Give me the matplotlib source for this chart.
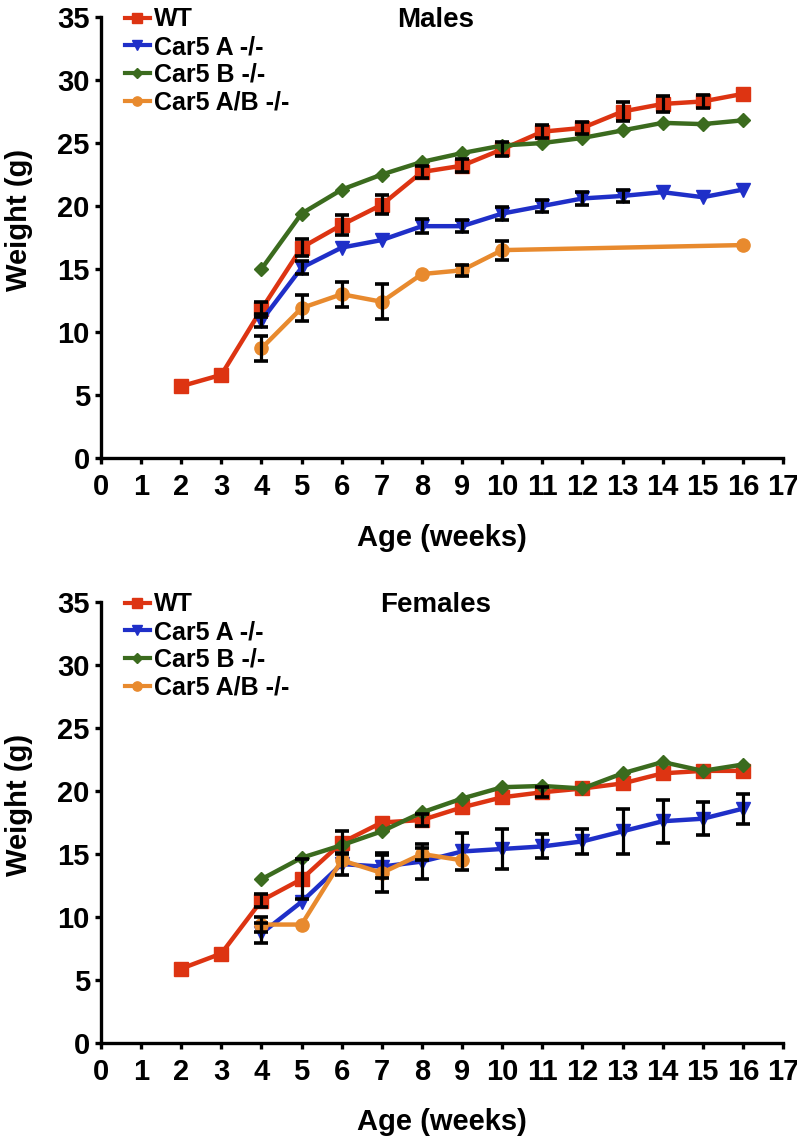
#!/usr/bin/env python3
import numpy as np
import matplotlib
matplotlib.use('Agg')
import matplotlib.pyplot as plt

plt.rcParams['font.family'] = ['Liberation Sans', 'DejaVu Sans']
plt.rcParams['font.weight'] = 'bold'

nan = np.nan

# ages (weeks)
AGES_WT = list(range(2, 17))
AGES_KO = list(range(4, 17))
AGES_AB_M = [4, 5, 6, 7, 8, 9, 10, 16]
AGES_AB_F = [4, 5, 6, 7, 8, 9]

# males
wt_m = [5.7, 6.6, 11.8, 16.7, 18.5, 20.1, 22.7, 23.2, 24.5, 25.9, 26.2, 27.5, 28.1, 28.3, 28.9]
wt_m_err = [nan, nan, 0.6, 0.7, 0.8, 0.75, 0.5, 0.5, 0.55, 0.5, 0.5, 0.75, 0.6, 0.55, nan]
a_m = [10.9, 15.1, 16.7, 17.3, 18.4, 18.4, 19.4, 20.0, 20.6, 20.8, 21.1, 20.7, 21.3]
a_m_err = [0.5, 0.5, nan, nan, 0.55, 0.5, 0.5, 0.5, 0.5, 0.5, nan, nan, nan]
b_m = [15.0, 19.4, 21.3, 22.5, 23.5, 24.2, 24.8, 25.0, 25.4, 26.0, 26.6, 26.5, 26.8]
ab_m = [8.7, 11.9, 13.0, 12.4, 14.6, 14.9, 16.5, 16.9]
ab_m_err = [1.0, 1.05, 1.0, 1.4, nan, 0.45, 0.75, nan]

# females
wt_f = [5.9, 7.1, 11.3, 13.0, 15.9, 17.5, 17.7, 18.7, 19.5, 19.9, 20.2, 20.6, 21.4, 21.6, 21.6]
wt_f_err = [nan, nan, 0.5, 1.6, 0.9, nan, 0.5, nan, nan, 0.4, nan, nan, nan, nan, nan]
a_f = [8.7, 11.2, 14.2, 14.0, 14.4, 15.2, 15.4, 15.6, 16.0, 16.8, 17.6, 17.8, 18.6]
a_f_err = [0.8, nan, 0.9, 0.9, 1.4, 1.5, 1.6, 0.95, 1.0, 1.8, 1.7, 1.3, 1.2]
b_f = [13.0, 14.7, 15.7, 16.8, 18.3, 19.4, 20.3, 20.4, 20.2, 21.4, 22.3, 21.6, 22.1]
ab_f = [9.4, 9.4, 14.5, 13.5, 15.0, 14.5]
ab_f_err = [0.6, nan, nan, 1.55, 0.5, nan]

LABELS = ['WT', 'Car5 A -/-', 'Car5 B -/-', 'Car5 A/B -/-']
COLORS = ['#DD3412', '#1F2FC8', '#3B6B1E', '#E88A2E']
MARKERS = ['s', 'v', 'D', 'o']
MSIZES = [9.5, 9.5, 7, 9.5]


def draw_panel(ax, series, title):
    for i, (x, y, err) in enumerate(series):
        ax.plot(x, y, color=COLORS[i], marker=MARKERS[i], ms=MSIZES[i],
                lw=3.2, label=LABELS[i], zorder=2 + i)
        if err is not None:
            x = np.array(x, dtype=float)
            y = np.array(y, dtype=float)
            err = np.array(err, dtype=float)
            ok = ~np.isnan(err)
            ax.errorbar(x[ok], y[ok], yerr=err[ok], fmt='none', ecolor='black',
                        elinewidth=2.3, capsize=4.8, capthick=2.6, zorder=6)

    ax.set_xlim(0, 17)
    ax.set_ylim(0, 35)
    ax.set_xticks(range(0, 18))
    ax.set_yticks(range(0, 36, 5))
    for side in ['top', 'right']:
        ax.spines[side].set_visible(False)
    for side in ['left', 'bottom']:
        ax.spines[side].set_linewidth(2.4)
    ax.tick_params(axis='both', direction='out', length=4, width=2.4,
                   labelsize=21)
    ax.tick_params(axis='x', pad=7)
    ax.tick_params(axis='y', pad=4)
    ax.set_xlabel('Age (weeks)', fontsize=21, fontweight='bold', labelpad=16)
    ax.set_ylabel('Weight (g)', fontsize=21, fontweight='bold')
    ax.yaxis.set_label_coords(-0.1, 0.54)

    ax.text(0.49, 0.993, title, transform=ax.transAxes, ha='center', va='center',
            fontsize=20, fontweight='bold')

    leg = ax.legend(loc='upper left', bbox_to_anchor=(0.035, 1.022), frameon=False,
                    fontsize=18, handlelength=1.0, handletextpad=0.15,
                    labelspacing=0.15, borderpad=0, borderaxespad=0,
                    markerscale=0.7)
    for line in leg.get_lines():
        line.set_linewidth(3)


fig = plt.figure(figsize=(7.97, 11.43), dpi=100)
ax_m = fig.add_axes([0.1267, 0.5993, 0.8557, 0.3858])
ax_f = fig.add_axes([0.1267, 0.0875, 0.8557, 0.3858])

draw_panel(ax_m, [
    (AGES_WT, wt_m, wt_m_err),
    (AGES_KO, a_m, a_m_err),
    (AGES_KO, b_m, None),
    (AGES_AB_M, ab_m, ab_m_err),
], 'Males')

draw_panel(ax_f, [
    (AGES_WT, wt_f, wt_f_err),
    (AGES_KO, a_f, a_f_err),
    (AGES_KO, b_f, None),
    (AGES_AB_F, ab_f, ab_f_err),
], 'Females')

fig.savefig('out.png', dpi=100)
